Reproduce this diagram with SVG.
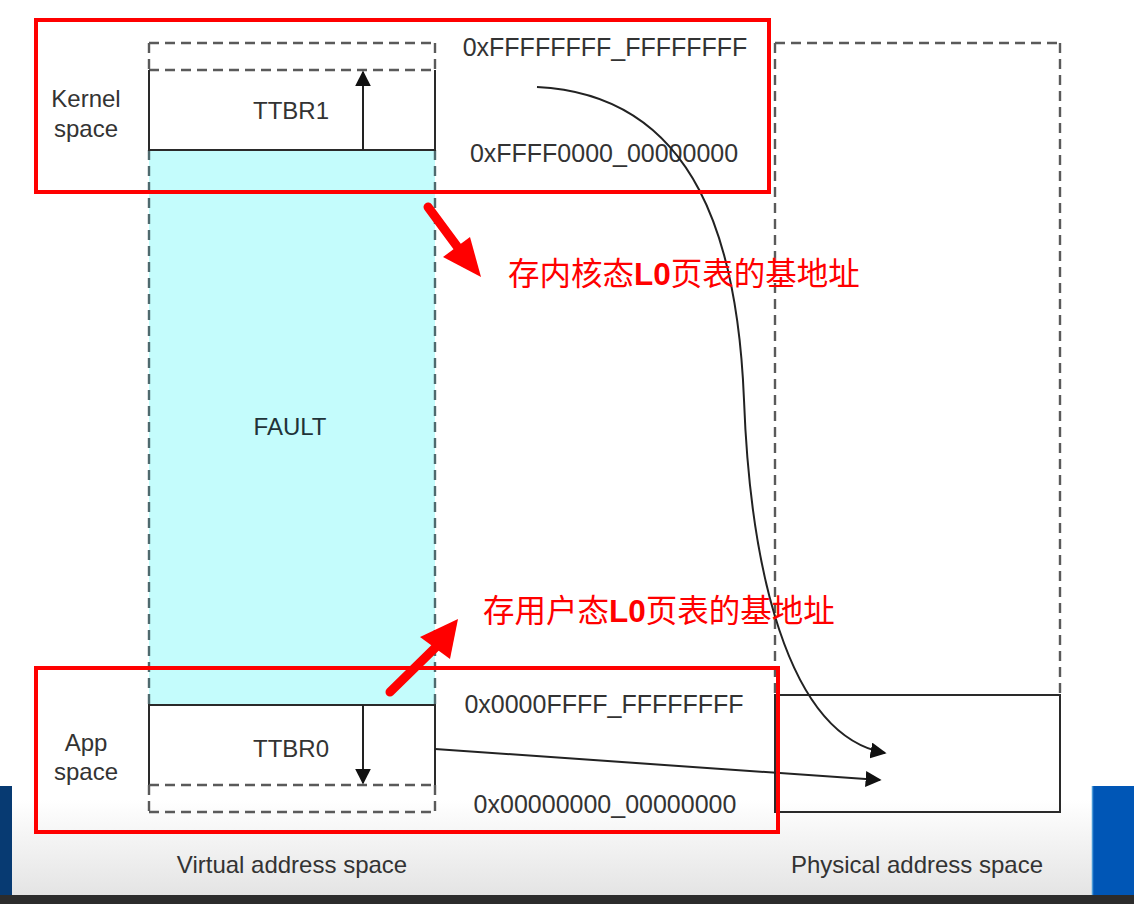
<svg xmlns="http://www.w3.org/2000/svg" width="1134" height="904" viewBox="0 0 1134 904">
  <defs>
    <linearGradient id="bottomFade" x1="0" y1="0" x2="0" y2="1">
      <stop offset="0" stop-color="#ffffff"/>
      <stop offset="1" stop-color="#e4e4e4"/>
    </linearGradient>
    <marker id="blackHead" viewBox="0 0 10 10" refX="9" refY="5" markerWidth="8" markerHeight="8" markerUnits="strokeWidth" orient="auto">
      <path d="M0,0 L10,5 L0,10 z" fill="#111"/>
    </marker>
    <marker id="blackHeadSmall" viewBox="0 0 10 10" refX="9" refY="5" markerWidth="8" markerHeight="8" markerUnits="strokeWidth" orient="auto">
      <path d="M0,0 L10,5 L0,10 z" fill="#111"/>
    </marker>
  </defs>
  <style>
    .dash { fill: none; stroke: #5a5a5a; stroke-width: 2.4; stroke-dasharray: 10 6; }
    .solid { fill: none; stroke: #2a2a2a; stroke-width: 2; }
    .lbl { font-family: "Liberation Sans", Arial, sans-serif; font-size: 24px; fill: #333333; }
    .addr { font-family: "Liberation Sans", Arial, sans-serif; font-size: 25px; fill: #333333; text-anchor: middle; }
    .mid { text-anchor: middle; }
    .redbox { fill: none; stroke: #ff0000; stroke-width: 4; }
    .note { font-family: "Noto Sans CJK SC", "Liberation Sans", sans-serif; font-size: 31.5px; fill: #ff0000; }
    .bold { font-family: "Liberation Sans", "Noto Sans CJK SC", sans-serif; font-weight: bold; }
    .conn { fill: none; stroke: #222; stroke-width: 2; }
  </style>

  <!-- background -->
  <rect x="0" y="0" width="1134" height="904" fill="#ffffff"/>
  <rect x="0" y="800" width="1134" height="95" fill="url(#bottomFade)"/>
  <rect x="0" y="895" width="1134" height="9" fill="#2c2c2c"/>
  <rect x="0" y="786" width="12" height="109" fill="#073a72"/>
  <rect x="1092" y="786" width="42" height="109" fill="#0056b6"/>
  <line x1="1092.5" y1="786" x2="1092.5" y2="895" stroke="#4a9ad8" stroke-width="1.5"/>

  <!-- Virtual address space column -->
  <g id="fault">
    <rect x="149" y="150" width="286" height="555" fill="#c4fcfc"/>
    <line x1="149" y1="150" x2="149" y2="705" class="dash" style="stroke:#4f6a6e"/>
    <line x1="435" y1="150" x2="435" y2="705" class="dash" style="stroke:#4f6a6e"/>
    <text x="290" y="435" class="lbl mid" style="fill:#1f3338">FAULT</text>
  </g>

  <g id="ttbr1">
    <line x1="149" y1="43" x2="435" y2="43" class="dash"/>
    <line x1="149" y1="43" x2="149" y2="70" class="dash"/>
    <line x1="435" y1="43" x2="435" y2="70" class="dash"/>
    <line x1="149" y1="70" x2="435" y2="70" class="dash"/>
    <polyline points="149,70 149,150 435,150 435,70" class="solid"/>
    <text x="291" y="119" class="lbl mid">TTBR1</text>
  </g>

  <g id="ttbr0">
    <polyline points="149,785 149,705 435,705 435,785" class="solid"/>
    <line x1="149" y1="785" x2="435" y2="785" class="dash"/>
    <line x1="149" y1="785" x2="149" y2="812" class="dash"/>
    <line x1="435" y1="785" x2="435" y2="812" class="dash"/>
    <line x1="149" y1="812" x2="435" y2="812" class="dash"/>
    <text x="291" y="757" class="lbl mid">TTBR0</text>
  </g>

  <g id="space-labels">
    <text x="86" y="107" class="lbl mid">Kernel</text>
    <text x="86" y="137" class="lbl mid">space</text>
    <text x="86" y="751" class="lbl mid">App</text>
    <text x="86" y="780" class="lbl mid">space</text>
    <text x="292" y="873" class="lbl mid">Virtual address space</text>
    <text x="917" y="873" class="lbl mid">Physical address space</text>
  </g>

  <g id="addresses">
    <text x="605" y="56" class="addr">0xFFFFFFFF_FFFFFFFF</text>
    <text x="604" y="162" class="addr">0xFFFF0000_00000000</text>
    <text x="604" y="713" class="addr">0x0000FFFF_FFFFFFFF</text>
    <text x="605" y="813" class="addr">0x00000000_00000000</text>
  </g>

  <!-- Physical address space column -->
  <g id="physical">
    <line x1="775" y1="43" x2="1060" y2="43" class="dash"/>
    <line x1="775" y1="43" x2="775" y2="695" class="dash"/>
    <line x1="1060" y1="43" x2="1060" y2="695" class="dash"/>
    <rect x="775" y="695" width="285" height="117" class="solid"/>
  </g>

  <!-- connectors -->
  <g id="connectors">
    <line x1="363" y1="150" x2="363" y2="72" class="conn" marker-end="url(#blackHead)"/>
    <line x1="363" y1="705" x2="363" y2="783" class="conn" marker-end="url(#blackHead)"/>
    <path d="M537,87 C700,95 738,250 744,400 C750,560 785,735 885,753" class="conn" marker-end="url(#blackHeadSmall)" stroke-width="1.8"/>
    <line x1="435" y1="749" x2="880" y2="780" class="conn" marker-end="url(#blackHeadSmall)" stroke-width="1.8"/>
  </g>

  <!-- red annotation boxes -->
  <g id="kernel-highlight">
    <rect x="36" y="20" width="733" height="172" class="redbox"/>
  </g>
  <g id="app-highlight">
    <rect x="36" y="668" width="742" height="164" class="redbox"/>
  </g>

  <!-- red annotation arrows and notes -->
  <g id="kernel-note">
    <line x1="428" y1="207" x2="459" y2="249" stroke="#ff0000" stroke-width="9" stroke-linecap="round"/>
    <polygon points="481,277 443,257 470,237" fill="#ff0000"/>
    <text x="508" y="285" class="note">存内核态<tspan class="bold">L0</tspan>页表的基地址</text>
  </g>
  <g id="app-note">
    <line x1="390" y1="692" x2="438" y2="645" stroke="#ff0000" stroke-width="9" stroke-linecap="round"/>
    <polygon points="458,619 420,637 450,659" fill="#ff0000"/>
    <text x="483" y="622" class="note">存用户态<tspan class="bold">L0</tspan>页表的基地址</text>
  </g>
</svg>
